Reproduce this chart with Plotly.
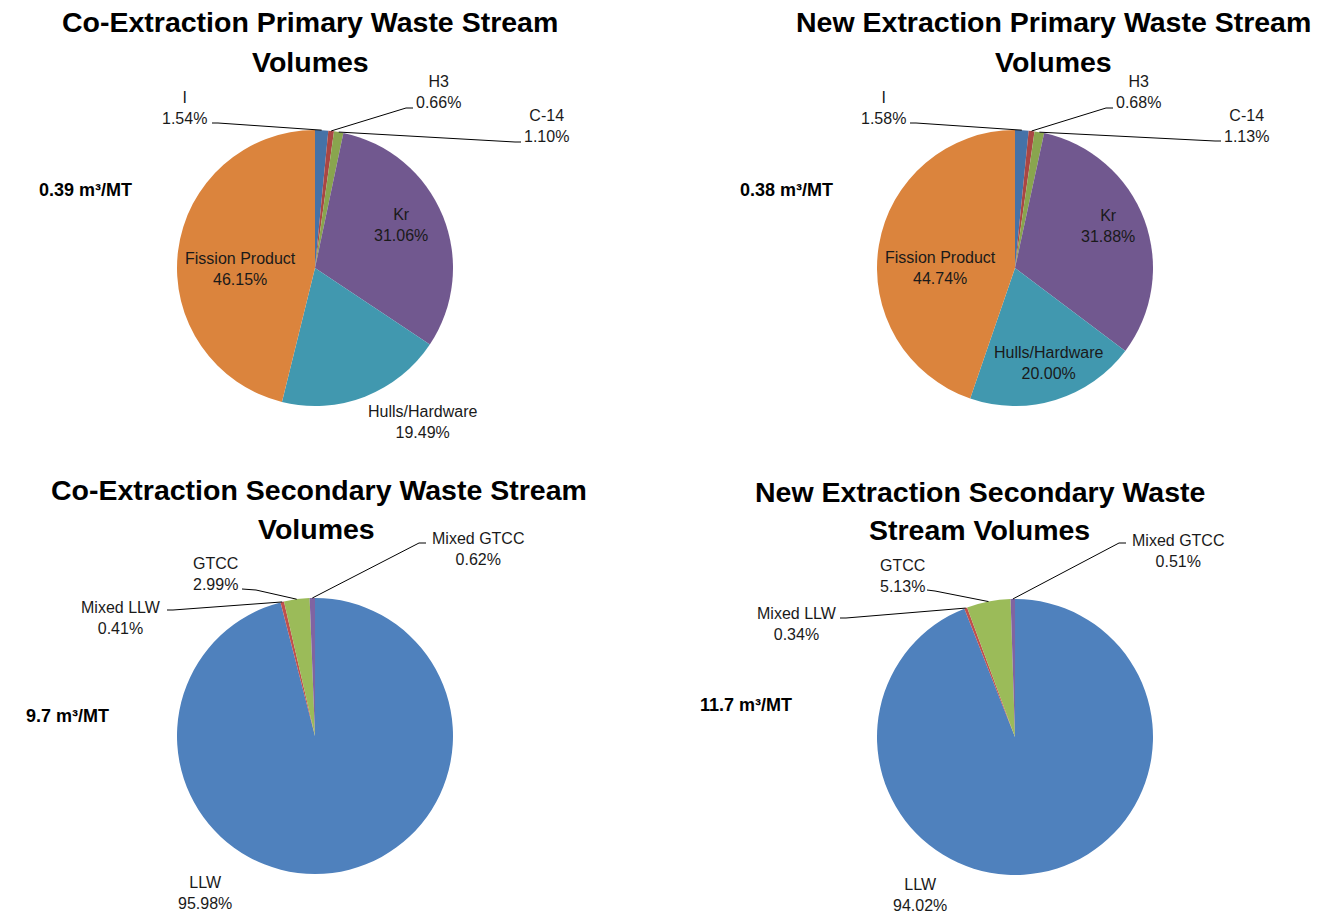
import math
import plotly.graph_objects as go

# ---------------- data ----------------
primary_labels = ["I", "H3", "C-14", "Kr", "Hulls/Hardware", "Fission Product"]
coext_primary = [1.54, 0.66, 1.10, 31.06, 19.49, 46.15]
newext_primary = [1.58, 0.68, 1.13, 31.88, 20.00, 44.74]

secondary_labels = ["LLW", "Mixed LLW", "GTCC", "Mixed GTCC"]
coext_secondary = [95.98, 0.41, 2.99, 0.62]
newext_secondary = [94.02, 0.34, 5.13, 0.51]

volume_texts = ["0.39 m³/MT", "0.38 m³/MT", "9.7 m³/MT", "11.7 m³/MT"]
titles = [
    ["Co-Extraction Primary Waste Stream", "Volumes"],
    ["New Extraction Primary Waste Stream", "Volumes"],
    ["Co-Extraction Secondary Waste Stream", "Volumes"],
    ["New Extraction Secondary Waste", "Stream Volumes"],
]

# ---------------- styling / layout ----------------
W, H = 1323, 914          # browser window == figure size (body margin removed)
primary_colors = ["#4572A7", "#AA4643", "#89A54E", "#71588F", "#4198AF", "#DB843D"]
secondary_colors = ["#4F81BD", "#C0504D", "#9BBB59", "#8064A2"]
FONT = "Liberation Sans, Arial, sans-serif"


def px(x):
    return x / W


def py(y):
    return 1 - y / H


# per-chart layout: pie centre/radius (px), title line positions, label placements
charts = [
    dict(labels=primary_labels, values=coext_primary, colors=primary_colors,
         cx=315, cy=268, r=138, title=titles[0], title_pos=[(310, 22), (310, 62)],
         vol=volume_texts[0], vol_pos=(37, 190),
         place={
             "I": dict(text=(184, 108), lead=[(212, 123), (218, 123)]),
             "H3": dict(text=(438, 92), lead=[(413, 108), (406, 108)]),
             "C-14": dict(text=(546, 126), lead=[(521, 142), (515, 142)]),
             "Kr": dict(text=(401, 225)),
             "Hulls/Hardware": dict(text=(422, 422)),
             "Fission Product": dict(text=(240, 269)),
         }),
    dict(labels=primary_labels, values=newext_primary, colors=primary_colors,
         cx=1015, cy=268, r=138, title=titles[1], title_pos=[(1053, 22), (1053, 62)],
         vol=volume_texts[1], vol_pos=(738, 190),
         place={
             "I": dict(text=(883, 108), lead=[(910, 123), (916, 123)]),
             "H3": dict(text=(1138, 92), lead=[(1113, 108), (1106, 108)]),
             "C-14": dict(text=(1246, 126), lead=[(1221, 141), (1215, 141)]),
             "Kr": dict(text=(1108, 226)),
             "Hulls/Hardware": dict(text=(1048, 363)),
             "Fission Product": dict(text=(940, 268)),
         }),
    dict(labels=secondary_labels, values=coext_secondary, colors=secondary_colors,
         cx=315, cy=736, r=138, title=titles[2], title_pos=[(319, 490), (316, 529)],
         vol=volume_texts[2], vol_pos=(24, 716),
         place={
             "LLW": dict(text=(205, 893)),
             "Mixed LLW": dict(text=(121, 618), lead=[(167, 610), (173, 610)]),
             "GTCC": dict(text=(215, 574), lead=[(242, 589), (256, 590)]),
             "Mixed GTCC": dict(text=(478, 549), lead=[(426, 543), (419, 543)]),
         }),
    dict(labels=secondary_labels, values=newext_secondary, colors=secondary_colors,
         cx=1015, cy=737, r=138, title=titles[3], title_pos=[(980, 492), (979, 530)],
         vol=volume_texts[3], vol_pos=(698, 705),
         place={
             "LLW": dict(text=(920, 895)),
             "Mixed LLW": dict(text=(797, 624), lead=[(840, 618), (846, 618)]),
             "GTCC": dict(text=(902, 576), lead=[(927, 590), (935, 591)]),
             "Mixed GTCC": dict(text=(1178, 551), lead=[(1126, 543), (1119, 543)]),
         }),
]

fig = go.Figure()
annotations = []
shapes = []

for ch in charts:
    cx, cy, r = ch["cx"], ch["cy"], ch["r"]
    fig.add_trace(go.Pie(
        labels=ch["labels"], values=ch["values"],
        marker=dict(colors=ch["colors"], line=dict(width=0)),
        sort=False, direction="clockwise", rotation=0,
        textinfo="none", showlegend=False,
        domain=dict(x=[px(cx - r), px(cx + r)], y=[py(cy + r), py(cy - r)]),
    ))

    total = sum(ch["values"])
    cum = 0.0
    for lab, val in zip(ch["labels"], ch["values"]):
        mid = (cum + val / 2) / total
        cum += val
        theta = 2 * math.pi * mid
        tip = (cx + r * math.sin(theta), cy - r * math.cos(theta))
        pl = ch["place"][lab]
        tx, ty = pl["text"]
        annotations.append(dict(
            x=px(tx), y=py(ty), xref="paper", yref="paper",
            text=f"{lab}<br>{val:.2f}%", showarrow=False,
            xanchor="center", yanchor="middle", align="center",
            font=dict(family=FONT, size=16, color="#1a1a1a"),
        ))
        if "lead" in pl:
            pts = pl["lead"] + [tip]
            path = "M " + " L ".join(f"{px(a)},{py(b)}" for a, b in pts)
            shapes.append(dict(type="path", xref="paper", yref="paper", path=path,
                               line=dict(color="black", width=1)))

    for line, (lx, ly) in zip(ch["title"], ch["title_pos"]):
        annotations.append(dict(
            x=px(lx), y=py(ly), xref="paper", yref="paper", text=f"<b>{line}</b>",
            showarrow=False, xanchor="center", yanchor="middle",
            font=dict(family=FONT, size=28.5, color="black"),
        ))

    vx, vy = ch["vol_pos"]
    annotations.append(dict(
        x=px(vx), y=py(vy), xref="paper", yref="paper", text=f"<b>{ch['vol']}</b>",
        showarrow=False, xanchor="left", yanchor="middle",
        font=dict(family=FONT, size=18, color="black"),
    ))

fig.update_layout(
    width=W, height=H,
    margin=dict(l=0, r=0, t=0, b=0),
    paper_bgcolor="white", plot_bgcolor="white",
    annotations=annotations, shapes=shapes,
)

fig.write_html(
    "out.html",
    config={"displayModeBar": False},
    post_script="document.body.style.margin='0';document.body.style.overflow='hidden';",
)
